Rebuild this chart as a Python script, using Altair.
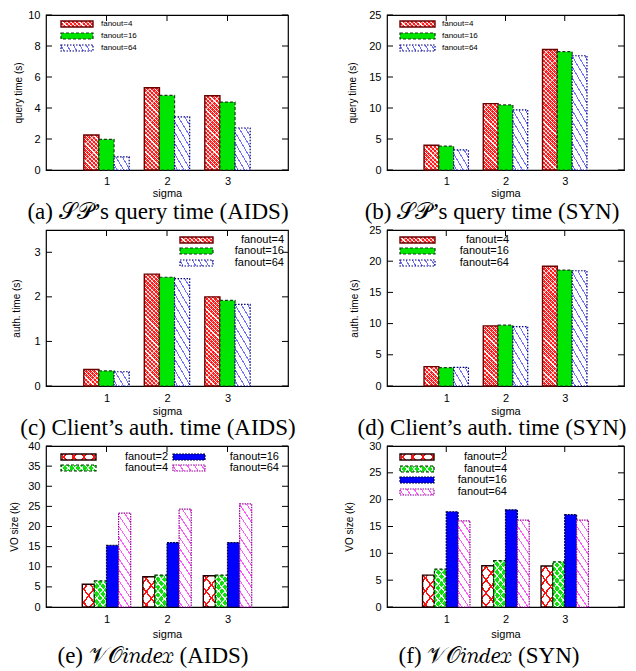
import math
import altair as alt
import pandas as pd

# ---------------- data ----------------
sigma_values = [1, 2, 3]

series_3 = ["fanout=4", "fanout=16", "fanout=64"]
series_4 = ["fanout=2", "fanout=4", "fanout=16", "fanout=64"]

# (a) SP's query time (AIDS)
a_fanout4 = [2.26, 5.31, 4.79]
a_fanout16 = [1.98, 4.81, 4.38]
a_fanout64 = [0.85, 3.43, 2.71]
# (b) SP's query time (SYN)
b_fanout4 = [3.99, 10.7, 19.44]
b_fanout16 = [3.84, 10.5, 19.09]
b_fanout64 = [3.23, 9.7, 18.43]
# (c) Client's auth. time (AIDS)
c_fanout4 = [0.37, 2.51, 2.00]
c_fanout16 = [0.34, 2.44, 1.92]
c_fanout64 = [0.32, 2.41, 1.83]
# (d) Client's auth. time (SYN)
d_fanout4 = [3.10, 9.63, 19.2]
d_fanout16 = [2.95, 9.74, 18.58]
d_fanout64 = [3.00, 9.53, 18.47]
# (e) VO_index (AIDS)
e_fanout2 = [5.64, 7.5, 7.75]
e_fanout4 = [6.48, 7.9, 7.9]
e_fanout16 = [15.3, 16.0, 16.0]
e_fanout64 = [23.3, 24.3, 25.6]
# (f) VO_index (SYN)
f_fanout2 = [5.94, 7.7, 7.64]
f_fanout4 = [7.07, 8.65, 8.4]
f_fanout16 = [17.75, 18.1, 17.2]
f_fanout64 = [16.04, 16.2, 16.2]

y_titles = ["query time (s)", "query time (s)", "auth. time (s)", "auth. time (s)",
            "VO size (k)", "VO size (k)"]
captions = ["(a) 𝒮𝒫’s query time (AIDS)", "(b) 𝒮𝒫’s query time (SYN)",
            "(c) Client’s auth. time (AIDS)", "(d) Client’s auth. time (SYN)",
            "(e) 𝒱𝒪𝑖𝑛𝑑𝑒𝑥 (AIDS)", "(f) 𝒱𝒪𝑖𝑛𝑑𝑒𝑥 (SYN)"]
y_max = [10, 25, 3.5, 25, 40, 30]
y_ticks = [[0, 2, 4, 6, 8, 10], [0, 5, 10, 15, 20, 25], [0, 1, 2, 3],
           [0, 5, 10, 15, 20, 25], [0, 5, 10, 15, 20, 25, 30, 35, 40],
           [0, 5, 10, 15, 20, 25, 30]]

# ---------------- styles (fill patterns) ----------------
WHITE0 = "rgba(255,255,255,0)"
STYLES = {
    "red_check": dict(bg="#ff1c1c", lines=[("\\", "rgba(255,255,255,0.55)", 3.0, 0.8, 1.0),
                                            ("/", "rgba(255,255,255,0.55)", 3.0, 0.8, 1.0)],
                      stroke="#6a0000", sw=1.4, dash=None),
    "green_solid": dict(bg="#00e600", lines=[], stroke="#1e3a1e", sw=1.2, dash=[3, 2]),
    "blue_hatch": dict(bg="#ffffff", lines=[("\\", "#7070ff", 5.5, 1.0, 1.7)],
                       stroke="#00007a", sw=1.2, dash=[1.5, 1.5]),
    "red_cross": dict(bg="#ffffff", lines=[("\\", "#ff1010", 8.0, 1.5, 1.3),
                                           ("/", "#ff1010", 8.0, 1.5, 1.3)],
                      stroke="#200000", sw=1.4, dash=None),
    "green_circ": dict(bg="#10e010", lines=[("\\", "rgba(255,255,255,0.75)", 5.0, 1.2, 1.2),
                                            ("/", "rgba(255,255,255,0.75)", 5.0, 1.2, 1.2)],
                       stroke="#003000", sw=1.2, dash=[3, 2]),
    "blue_solid": dict(bg="#0000ff", lines=[], stroke="#000040", sw=1.2, dash=[2, 1]),
    "mag_hatch": dict(bg="#ffffff", lines=[("\\", "#ff55ff", 6.0, 1.0, 1.5)],
                      stroke="#990099", sw=1.2, dash=[1.5, 1.0]),
}


def hatch(w, h, direction, bg, fg, period, lw, k):
    w = max(w, 1.0)
    h = max(h, 1.0)
    s = math.sqrt(1 + k * k)
    L = k * w + h
    if direction == "\\":
        gx, gy = k / h, -1.0 / w
        p1 = (0.0, 1.0)
    else:
        gx, gy = k / h, 1.0 / w
        p1 = (0.0, 0.0)
    t = (k / h + 1.0 / w) / (gx * gx + gy * gy)
    p2 = (p1[0] + t * gx, p1[1] + t * gy)
    dp = period * s / L
    dl = lw * s / L
    stops = [(0.0, bg)]
    pos = dp * 0.4
    while pos < 1.0:
        a = pos
        b = min(pos + dl, 1.0)
        stops += [(a, bg), (a, fg), (b, fg), (b, bg)]
        pos += dp
    stops.append((1.0, bg))
    return alt.LinearGradient(
        gradient="linear",
        stops=[alt.GradientStop(offset=round(o, 5), color=c) for o, c in stops],
        x1=round(p1[0], 5), y1=round(p1[1], 5), x2=round(p2[0], 5), y2=round(p2[1], 5))


def styled(chart_base, enc, style, w, h):
    st = STYLES[style]
    out = []
    lines = st["lines"]
    if lines:
        d, c, per, lw, k = lines[0]
        fill0 = hatch(w, h, d, st["bg"], c, per, lw, k)
    else:
        fill0 = st["bg"]
    if len(lines) <= 1:
        kw = dict(fill=fill0, stroke=st["stroke"], strokeWidth=st["sw"])
        if st["dash"]:
            kw["strokeDash"] = st["dash"]
        out.append(chart_base.mark_rect(**kw).encode(**enc))
    else:
        out.append(chart_base.mark_rect(fill=fill0, strokeWidth=0).encode(**enc))
        for d, c, per, lw, k in lines[1:]:
            out.append(chart_base.mark_rect(fill=hatch(w, h, d, WHITE0, c, per, lw, k),
                                            strokeWidth=0).encode(**enc))
        kw = dict(fill="transparent", stroke=st["stroke"], strokeWidth=st["sw"])
        if st["dash"]:
            kw["strokeDash"] = st["dash"]
        out.append(chart_base.mark_rect(**kw).encode(**enc))
    return out


PANELS = [
    dict(series=series_3, values=[a_fanout4, a_fanout16, a_fanout64],
         styles=["red_check", "green_solid", "blue_hatch"], W=242, H=155,
         yext=23, xext=17, lpad=5, cap=(112, 42),
         legend=dict(keys=[(15, 47, 9), (15, 47, 21), (15, 47, 33)], tx=55, align="left", fs=8)),
    dict(series=series_3, values=[b_fanout4, b_fanout16, b_fanout64],
         styles=["red_check", "green_solid", "blue_hatch"], W=237, H=155,
         yext=30, xext=17, lpad=5, cap=(105, 42),
         legend=dict(keys=[(13, 48, 9), (13, 48, 21), (13, 48, 33)], tx=55, align="left", fs=8)),
    dict(series=series_3, values=[c_fanout4, c_fanout16, c_fanout64],
         styles=["red_check", "green_solid", "blue_hatch"], W=242, H=156,
         yext=25, xext=19, lpad=6, cap=(112, 42),
         legend=dict(keys=[(134, 167, 10), (134, 167, 21), (134, 167, 33)], tx=238,
                     align="right", fs=11)),
    dict(series=series_3, values=[d_fanout4, d_fanout16, d_fanout64],
         styles=["red_check", "green_solid", "blue_hatch"], W=237, H=156,
         yext=28, xext=19, lpad=6, cap=(105, 42),
         legend=dict(keys=[(13, 48, 10), (13, 48, 21), (13, 48, 33)], tx=122,
                     align="right", fs=11)),
    dict(series=series_4, values=[e_fanout2, e_fanout4, e_fanout16, e_fanout64],
         styles=["red_cross", "green_circ", "blue_solid", "mag_hatch"], W=242, H=161,
         yext=27, xext=21, lpad=6, cap=(107, 49),
         legend=dict(keys=[(15, 50, 11), (15, 50, 22), (127, 159, 11), (127, 159, 22)],
                     tx=[122, 122, 233, 233], align="right", fs=11)),
    dict(series=series_4, values=[f_fanout2, f_fanout4, f_fanout16, f_fanout64],
         styles=["red_cross", "green_circ", "blue_solid", "mag_hatch"], W=237, H=161,
         yext=33, xext=21, lpad=6, cap=(102, 49),
         legend=dict(keys=[(13, 47, 11), (13, 47, 23), (13, 47, 34), (13, 47, 46)], tx=120,
                     align="right", fs=11)),
]

SANS = "Liberation Sans"
SERIF = "Liberation Serif"


def make_panel(idx):
    p = PANELS[idx]
    W, H = p["W"], p["H"]
    n = len(p["series"])
    bw = 1.0 / (n + 1)
    rows = []
    for si, (name, vals) in enumerate(zip(p["series"], p["values"])):
        for s, v in zip(sigma_values, vals):
            x0 = s - n * bw / 2 + si * bw
            rows.append(dict(id=len(rows), series=name, si=si, sigma=s, value=v,
                             x0=x0, x1=x0 + bw))
    df = pd.DataFrame(rows)
    xs = alt.Scale(domain=[0, 4], nice=False, zero=False)
    ys = alt.Scale(domain=[0, y_max[idx]], nice=False, zero=True)

    xaxis = alt.Axis(values=sigma_values, title="sigma", ticks=False, domain=False, grid=False,
                     labelAngle=0, labelPadding=p["lpad"], labelFontSize=11, titleFontSize=11,
                     labelFont=SANS, titleFont=SANS, titleFontWeight="normal",
                     minExtent=p["xext"], maxExtent=p["xext"], titlePadding=0,
                     labelColor="black", titleColor="black", format="d")
    yaxis = alt.Axis(values=y_ticks[idx], title=y_titles[idx], ticks=False, domain=False,
                     grid=False, labelPadding=6, labelFontSize=11, titleFontSize=10,
                     labelFont=SANS, titleFont=SANS, titleFontWeight="normal",
                     minExtent=p["yext"], maxExtent=p["yext"], titlePadding=0,
                     labelColor="black", titleColor="black")

    layers = []
    # inward ticks (border ticks, mirrored); these layers also carry the axes
    ydf = pd.DataFrame({"t": y_ticks[idx]})
    xdf = pd.DataFrame({"s": sigma_values})
    layers.append(alt.Chart(ydf).mark_rule(color="black", strokeWidth=1).encode(
        y=alt.Y("t:Q", scale=ys, axis=yaxis), x=alt.value(0), x2=alt.value(6)))
    layers.append(alt.Chart(ydf).mark_rule(color="black", strokeWidth=1).encode(
        y=alt.Y("t:Q", scale=ys, axis=yaxis), x=alt.value(W - 6), x2=alt.value(W)))
    layers.append(alt.Chart(xdf).mark_rule(color="black", strokeWidth=1).encode(
        x=alt.X("s:Q", scale=xs, axis=xaxis), y=alt.value(0), y2=alt.value(6)))
    layers.append(alt.Chart(xdf).mark_rule(color="black", strokeWidth=1).encode(
        x=alt.X("s:Q", scale=xs, axis=xaxis), y=alt.value(H - 6), y2=alt.value(H)))

    for r in rows:
        base = alt.Chart(df).transform_filter(alt.datum.id == r["id"])
        enc = dict(x=alt.X("x0:Q", scale=xs, axis=xaxis), x2="x1:Q",
                   y=alt.Y("value:Q", scale=ys, axis=yaxis), y2=alt.Y2Datum(0))
        w_px = bw * W / 4.0
        h_px = r["value"] / y_max[idx] * H
        layers += styled(base, enc, p["styles"][r["si"]], w_px, h_px)

    # legend (drawn inside plot, like gnuplot keys)
    lg = p["legend"]
    for li, name in enumerate(p["series"]):
        kx0, kx1, ky = lg["keys"][li]
        ldf = pd.DataFrame({"label": [name]})
        lbase = alt.Chart(ldf)
        kenc = dict(x=alt.value(kx0), x2=alt.value(kx1), y=alt.value(ky - 3), y2=alt.value(ky + 3))
        layers += styled(lbase, kenc, p["styles"][li], kx1 - kx0, 6)
        tx = lg["tx"][li] if isinstance(lg["tx"], list) else lg["tx"]
        layers.append(lbase.mark_text(align=lg["align"], baseline="middle", font=SANS,
                                      fontSize=lg["fs"], color="black").encode(
            x=alt.value(tx), y=alt.value(ky), text="label:N"))

    # caption below the panel
    cx, cdy = p["cap"]
    cdf = pd.DataFrame({"cap": [captions[idx]]})
    layers.append(alt.Chart(cdf).mark_text(align="center", baseline="middle", font=SERIF,
                                           fontSize=23, color="black").encode(
        x=alt.value(cx), y=alt.value(H + cdy), text="cap:N"))

    return alt.layer(*layers).properties(width=W, height=H)


panels = [make_panel(i) for i in range(6)]

chart = alt.concat(*panels, columns=2, spacing={"row": 60, "column": 99},
                   bounds="flush").properties(
    padding={"left": 0, "top": 0, "right": 0, "bottom": 0},
    background="white",
).configure_view(stroke="black", strokeWidth=1.2)

chart.save("out.html", embed_options={"renderer": "svg", "actions": False})
